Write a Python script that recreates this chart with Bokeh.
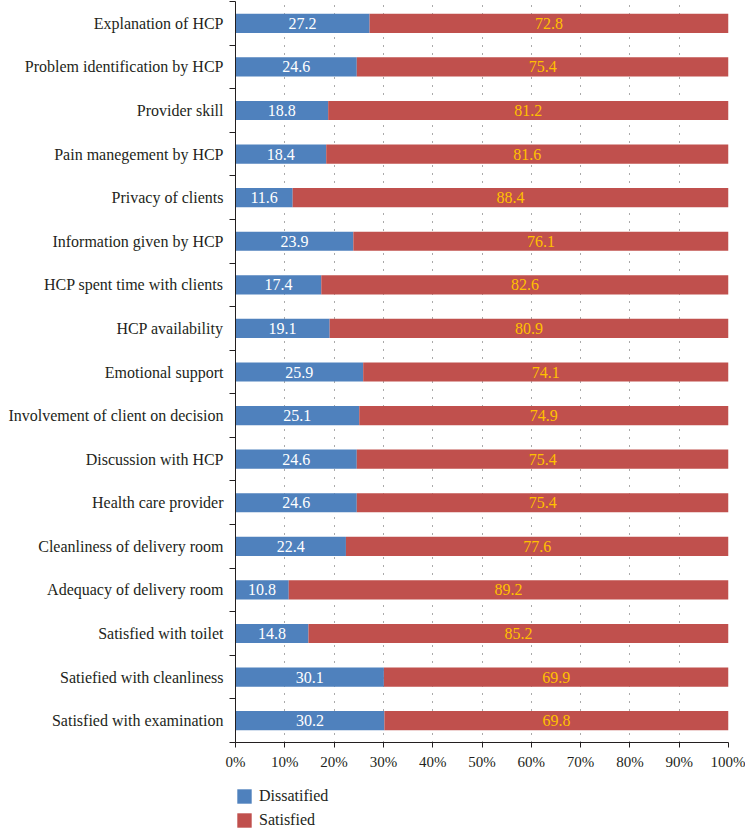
from bokeh.plotting import figure
from bokeh.layouts import column
from bokeh.models import (ColumnDataSource, FixedTicker, PrintfTickFormatter,
                          Legend, LegendItem, Range1d)
from bokeh.core.properties import value
from bokeh.embed import file_html
from bokeh.resources import INLINE

categories = [
    "Explanation of HCP",
    "Problem identification by HCP",
    "Provider skill",
    "Pain manegement by HCP",
    "Privacy of clients",
    "Information given by HCP",
    "HCP spent time with clients",
    "HCP availability",
    "Emotional support",
    "Involvement of client on decision",
    "Discussion with HCP",
    "Health care provider",
    "Cleanliness of delivery room",
    "Adequacy of delivery room",
    "Satisfied with toilet",
    "Satiefied with cleanliness",
    "Satisfied with examination",
]
dissatisfied = [27.2, 24.6, 18.8, 18.4, 11.6, 23.9, 17.4, 19.1, 25.9, 25.1,
                24.6, 24.6, 22.4, 10.8, 14.8, 30.1, 30.2]
satisfied = [72.8, 75.4, 81.2, 81.6, 88.4, 76.1, 82.6, 80.9, 74.1, 74.9,
             75.4, 75.4, 77.6, 89.2, 85.2, 69.9, 69.8]
series_names = ["Dissatified", "Satisfied"]
x_ticks = [0, 10, 20, 30, 40, 50, 60, 70, 80, 90, 100]

FONT = "Liberation Serif"
BLUE = "#4F81BD"
RED = "#C0504D"
TXT = "#231F20"

n = len(categories)
ypos = [n - 1 - i + 0.5 for i in range(n)]
total = [d + s for d, s in zip(dissatisfied, satisfied)]
src = ColumnDataSource(dict(
    y=ypos, d=dissatisfied, s=satisfied, tot=total,
    dmid=[d / 2 for d in dissatisfied],
    smid=[d + s / 2 for d, s in zip(dissatisfied, satisfied)],
    dlab=[f"{v:.1f}" for v in dissatisfied],
    slab=[f"{v:.1f}" for v in satisfied],
))

p = figure(width=745, height=772, output_backend="svg", toolbar_location=None,
           x_range=Range1d(0, 100), y_range=Range1d(0, n),
           min_border_left=235, min_border_right=17, min_border_top=1,
           min_border_bottom=30)
p.outline_line_color = None

p.hbar(y="y", left=0, right="d", height=0.44, source=src,
       fill_color=BLUE, line_color=None)
p.hbar(y="y", left="d", right="tot", height=0.44, source=src,
       fill_color=RED, line_color=None)

p.text(x="dmid", y="y", text="dlab", source=src, text_align="center",
       text_baseline="middle", text_color="white",
       text_font=value(FONT), text_font_size="16px")
p.text(x="smid", y="y", text="slab", source=src, text_align="center",
       text_baseline="middle", text_color="#FFC000",
       text_font=value(FONT), text_font_size="16px")

# x axis
p.xaxis.ticker = FixedTicker(ticks=x_ticks)
p.xaxis.formatter = PrintfTickFormatter(format="%d%%")
p.xaxis.major_tick_in = 0
p.xaxis.major_tick_out = 5
p.xaxis.minor_tick_line_color = None
p.xaxis.axis_line_color = TXT
p.xaxis.major_tick_line_color = TXT
p.xaxis.major_label_text_font = FONT
p.xaxis.major_label_text_font_size = "15px"
p.xaxis.major_label_text_color = TXT
p.xaxis.major_label_standoff = 6

# y axis: labels at centers, ticks at boundaries
p.yaxis.ticker = FixedTicker(ticks=ypos, minor_ticks=list(range(0, n + 1)))
p.yaxis.major_label_overrides = {y: c for y, c in zip(ypos, categories)}
p.yaxis.major_tick_line_color = None
p.yaxis.major_tick_in = 0
p.yaxis.major_tick_out = 6
p.yaxis.minor_tick_in = 0
p.yaxis.minor_tick_out = 6
p.yaxis.minor_tick_line_color = TXT
p.yaxis.axis_line_color = TXT
p.yaxis.major_label_text_font = FONT
p.yaxis.major_label_text_font_size = "16px"
p.yaxis.major_label_text_color = TXT
p.yaxis.major_label_standoff = 6

p.ygrid.grid_line_color = None
p.xgrid.grid_line_color = "#555555"
p.xgrid.grid_line_dash = "1 7"
p.xgrid.grid_line_width = 1

# legend strip below the chart (its series renderers lie outside its view)
lg = figure(width=745, height=56, output_backend="svg", toolbar_location=None,
            x_range=Range1d(0, 100), y_range=Range1d(1000, 1001),
            x_axis_location=None, y_axis_location=None,
            min_border_left=231, min_border_right=0, min_border_top=15,
            min_border_bottom=0)
lg.outline_line_color = None
lg.grid.visible = False
g1 = lg.hbar(y="y", left=0, right="d", height=0.44, source=src,
             fill_color=BLUE, line_color=None)
g2 = lg.hbar(y="y", left="d", right="tot", height=0.44, source=src,
             fill_color=RED, line_color=None)
legend = Legend(items=[LegendItem(label=series_names[0], renderers=[g1]),
                       LegendItem(label=series_names[1], renderers=[g2])],
                orientation="vertical", location="top_left",
                label_text_font=FONT, label_text_font_size="16px",
                label_text_color=TXT, glyph_width=18, glyph_height=18,
                spacing=6, label_standoff=6, padding=0, margin=0,
                border_line_color=None, background_fill_alpha=0)
lg.add_layout(legend, "center")

open("out.html", "w").write(file_html(column(p, lg, spacing=0), INLINE))
